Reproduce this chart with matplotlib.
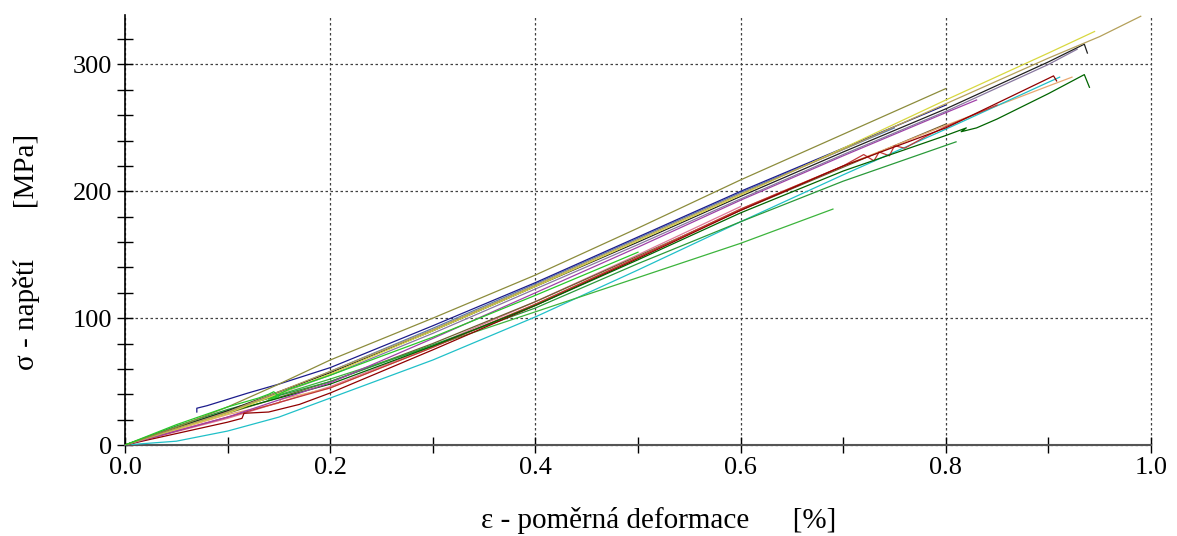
import matplotlib
matplotlib.use("Agg")
import matplotlib.pyplot as plt
from matplotlib.ticker import MultipleLocator

# ---------------- data (strain %, stress MPa) ----------------
x_olive = [0, .05, .1, .15, .2, .3, .4, .5, .6, .7, .8]
y_olive = [0, 14, 30, 48, 67, 100, 134, 171, 209, 245, 281]

x_tan = [0, .1, .2, .3, .4, .5, .6, .7, .8, .9, .95, .99]
y_tan = [0, 26, 58, 91, 126, 162, 198, 233, 269, 305, 322, 338]

x_yellow = [0, .1, .2, .3, .4, .5, .6, .7, .8, .9, .945]
y_yellow = [0, 25, 56, 90, 125, 161, 197, 234, 272, 309, 326]

x_black = [0, .1, .2, .3, .4, .5, .6, .7, .8, .9, .935, .938]
y_black = [0, 27, 57, 90, 125, 160, 196, 231, 265, 302, 316, 309]

x_lavender = [0, .1, .2, .3, .4, .5, .6, .7, .8, .9, .928]
y_lavender = [0, 26, 55, 88, 123, 158, 194, 229, 263, 300, 312]

x_navy = [.07, .07, .08, .1, .12, .15, .2, .3, .4, .5, .6, .7, .8]
y_navy = [26, 29, 31, 36, 41, 48, 61, 94, 128, 164, 200, 234, 268]

x_steel = [0, .1, .2, .3, .4, .5, .6, .7, .75]
y_steel = [0, 25, 58, 92, 127, 163, 199, 233, 250]

x_purple = [0, .1, .2, .3, .4, .5, .6, .7, .8, .83]
y_purple = [0, 22, 49, 84, 120, 156, 193, 228, 262, 272]

x_darkred = [0, .05, .1, .114, .116, .14, .17, .2, .3, .4, .5, .6, .7, .8, .9, .905, .908]
y_darkred = [0, 9, 18, 21, 25, 26, 32, 41, 75, 110, 147, 185, 220, 250, 289, 291, 287]

x_crimson = [0, .1, .2, .3, .4, .5, .6, .7, .72, .73, .735, .745, .75, .76, .78, .8, .85]
y_crimson = [0, 22, 45, 77, 111, 148, 186, 220, 229, 224, 231, 228, 236, 234, 243, 251, 268]

x_cyan = [0, .05, .1, .15, .2, .3, .4, .5, .6, .7, .8, .9, .911]
y_cyan = [0, 3, 11, 22, 37, 67, 101, 138, 176, 213, 249, 286, 290]

x_peach = [0, .1, .15, .152, .2, .3, .4, .5, .6, .7, .8, .9, .923]
y_peach = [0, 24, 33, 36, 45, 77, 111, 148, 186, 220, 252, 283, 290]

x_dkgreen = [0, .1, .2, .3, .4, .5, .6, .7, .8, .82, .815, .83, .85, .9, .935, .94]
y_dkgreen = [0, 26, 48, 78, 110, 146, 183, 216, 244, 250, 247, 250, 257, 277, 292, 282]

x_green = [0, .05, .1, .2, .3, .4, .5, .6, .7, .81]
y_green = [0, 15, 28, 50, 79, 108, 143, 176, 208, 239]

x_ltgreen = [0, .05, .1, .2, .3, .4, .5, .6, .69]
y_ltgreen = [0, 14, 27, 52, 78, 105, 132, 159, 186]

x_brgreen = [0, .05, .1, .13, .14, .145, .15, .14, .16, .2, .3, .4, .5]
y_brgreen = [0, 16, 30, 37, 40, 42, 38, 36, 44, 55, 85, 118, 152]

x_pink = [0, .1, .2, .3, .4, .5, .6]
y_pink = [0, 21, 46, 78, 113, 150, 188]

x_brown = [0, .1, .2, .3, .4, .5, .6, .7, .8]
y_brown = [0, 25, 50, 80, 113, 149, 185, 219, 253]

x_ticks = [0.0, 0.2, 0.4, 0.6, 0.8, 1.0]
y_ticks = [0, 100, 200, 300]

series = [
    (x_pink, y_pink, "#e07898"),
    (x_brown, y_brown, "#6e5e30"),
    (x_steel, y_steel, "#5a7ab4"),
    (x_peach, y_peach, "#e8a870"),
    (x_cyan, y_cyan, "#20c0c8"),
    (x_ltgreen, y_ltgreen, "#3cb43c"),
    (x_green, y_green, "#2a9a3a"),
    (x_crimson, y_crimson, "#c03838"),
    (x_darkred, y_darkred, "#900000"),
    (x_dkgreen, y_dkgreen, "#006400"),
    (x_purple, y_purple, "#a040a8"),
    (x_lavender, y_lavender, "#8878a0"),
    (x_black, y_black, "#202020"),
    (x_navy, y_navy, "#1c1c8c"),
    (x_yellow, y_yellow, "#d8d840"),
    (x_tan, y_tan, "#b4a05a"),
    (x_olive, y_olive, "#8c8c3c"),
    (x_brgreen, y_brgreen, "#28c828"),
]

# ---------------- figure ----------------
plt.rcParams["font.family"] = ["Liberation Serif", "DejaVu Serif"]
fig = plt.figure(figsize=(11.77, 5.36), dpi=100)
ax = fig.add_axes([125 / 1177, 1 - 445 / 536, 1026 / 1177, 430 / 536])

for xs, ys, c in series:
    ax.plot(xs, ys, color=c, lw=0.9, zorder=3)

ax.set_xlim(0, 1.0)
ax.set_ylim(0, 339)
ax.set_xticks(x_ticks)
ax.set_yticks(y_ticks)
ax.set_xticklabels([f"{v:.1f}" for v in x_ticks])
ax.set_yticklabels([str(v) for v in y_ticks])
ax.xaxis.set_minor_locator(MultipleLocator(0.1))
ax.yaxis.set_minor_locator(MultipleLocator(20))

ax.grid(True, which="major", linestyle=(0, (2, 2)), color="#404040", lw=0.9)
ax.set_axisbelow(True)
for gl in ax.get_xgridlines() + ax.get_ygridlines():
    gl.set_clip_on(False)

for s in ("top", "right"):
    ax.spines[s].set_visible(False)
ax.spines["left"].set_color("black")
ax.spines["left"].set_linewidth(1.2)
ax.spines["bottom"].set_color("#555555")
ax.spines["bottom"].set_linewidth(1.5)

ax.tick_params(which="both", direction="inout", length=12, width=1.0,
               color="black", labelsize=19)
ax.tick_params(axis="x", pad=3)
ax.tick_params(axis="y", pad=3)

fig.text(659 / 1177, 1 - 521 / 536, "ε - poměrná deformace      [%]",
         ha="center", va="center", fontsize=21)
fig.text(27 / 1177, 1 - 252 / 536, "σ - napětí       [MPa]",
         ha="center", va="center", rotation=90, fontsize=21)

fig.savefig("out.png", dpi=100)
